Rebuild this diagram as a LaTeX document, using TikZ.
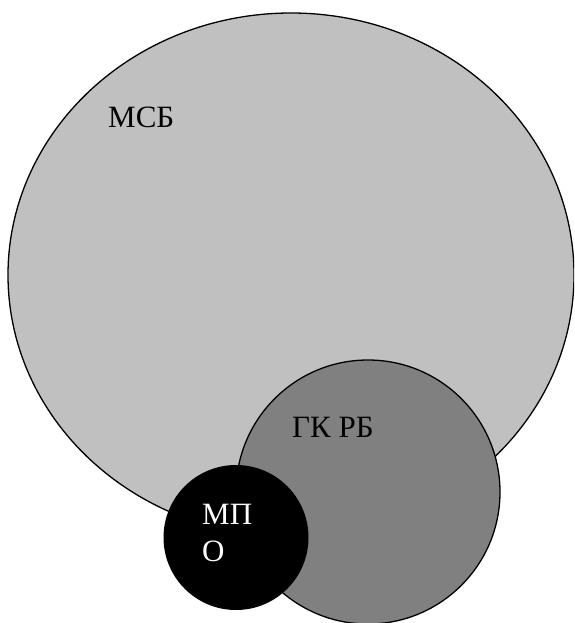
\documentclass[tikz,border=0pt]{standalone}
\usepackage{fontspec}
\setmainfont{Liberation Serif}
\definecolor{lightg}{HTML}{C0C0C0}
\definecolor{midg}{HTML}{808080}
\begin{document}
\begin{tikzpicture}[x=1pt,y=-1pt,
  lbl/.style={anchor=base west,inner sep=0pt,font=\fontsize{31}{36}\selectfont}]
\useasboundingbox (0,0) rectangle (574,623);
\begin{scope}
\clip (0,0) rectangle (574,623);
\filldraw[fill=lightg,draw=black,line width=1.3pt] (291,275) ellipse [x radius=283, y radius=262];
\filldraw[fill=midg,draw=black,line width=1.3pt] (368,492) circle [radius=132];
\fill[black] (236,537.5) circle [radius=72.5];
\end{scope}
\node[lbl] (msb) at (108,128) {МСБ};
\node[lbl] (gk) at (292,437) {ГК РБ};
\node[lbl,text=white] (mp) at (202,524) {МП};
\node[lbl,text=white] (o) at (202,561) {О};
\end{tikzpicture}
\end{document}
